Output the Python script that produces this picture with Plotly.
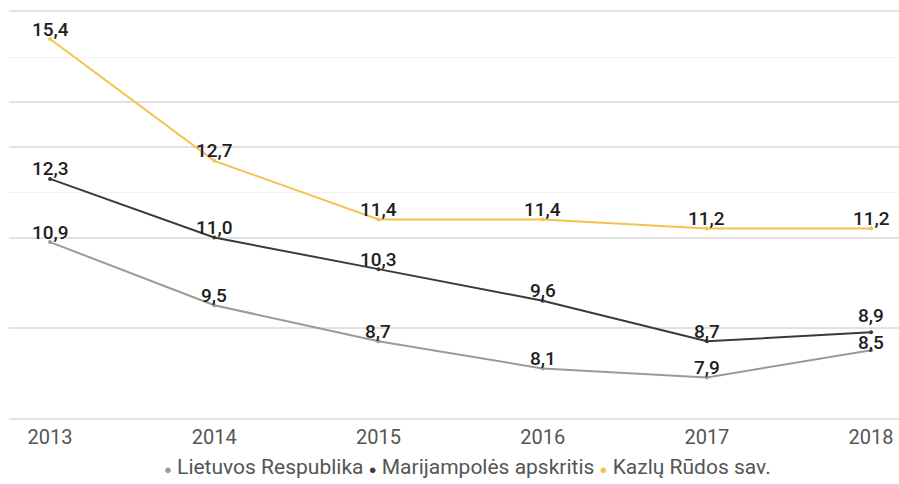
import plotly.graph_objects as go

years = [2013, 2014, 2015, 2016, 2017, 2018]
lietuvos = [10.9, 9.5, 8.7, 8.1, 7.9, 8.5]
marijampoles = [12.3, 11.0, 10.3, 9.6, 8.7, 8.9]
kazlu_rudos = [15.4, 12.7, 11.4, 11.4, 11.2, 11.2]

series_names = ["Lietuvos Respublika", "Marijampolės apskritis", "Kazlų Rūdos sav."]
series_values = [lietuvos, marijampoles, kazlu_rudos]
series_colors = ["#9a9a9a", "#3a3a3a", "#f2c44f"]

# vertical offset (px) of each value label above its point
label_shifts = [
    [10, 10, 10, 10, 10, 8],
    [10, 10, 10, 10, 10, 17],
    [10, 10, 10, 10, 10, 10],
]

grid_major = [9, 11, 13, 14]
grid_minor = [12, 15]

fig = go.Figure()
for name, vals, col, shifts in zip(series_names, series_values, series_colors, label_shifts):
    fig.add_trace(go.Scatter(
        x=years, y=vals, name=name, mode="lines+markers",
        line=dict(color=col, width=2),
        marker=dict(color=col, size=4),
        showlegend=False, cliponaxis=False,
    ))
    for xv, yv, s in zip(years, vals, shifts):
        fig.add_annotation(
            x=xv, y=yv, text=f"{yv:.1f}".replace(".", ","), showarrow=False,
            xanchor="center", yanchor="middle", yshift=s,
            font=dict(family="Roboto", size=19, color="#1e1e1e", weight=500),
        )

legend_text = " ".join(
    f"<span style='color:{c};font-size:13px'>●</span> {n}" for n, c in zip(series_names, series_colors)
)

fig.add_annotation(
    text=legend_text, xref="paper", yref="paper", x=0.515, y=-0.121,
    xanchor="center", yanchor="middle", showarrow=False,
    font=dict(family="Roboto", size=21, color="#555555"),
)

fig.update_layout(
    width=899, height=484,
    margin=dict(l=9, r=0, t=12, b=66),
    paper_bgcolor="white", plot_bgcolor="white",
    separators=", ",
    xaxis=dict(
        range=[2012.75, 2018.17], tickvals=years, showgrid=False, zeroline=False,
        showline=True, mirror=True, linecolor="#e2e2e2", linewidth=1.5, ticks="",
        tickfont=dict(family="Roboto", size=20, color="#555555"),
    ),
    yaxis=dict(
        range=[7, 16], tickvals=grid_major, showticklabels=False, showgrid=True,
        gridcolor="#e2e2e2", gridwidth=1.5, zeroline=False, showline=False,
        minor=dict(tickvals=grid_minor, showgrid=True, gridcolor="#f2f2f2", gridwidth=1),
    ),
)

fig.write_html(
    "out.html",
    config={"displayModeBar": False},
    post_script="document.body.style.margin='0';document.body.style.overflow='hidden';",
)
